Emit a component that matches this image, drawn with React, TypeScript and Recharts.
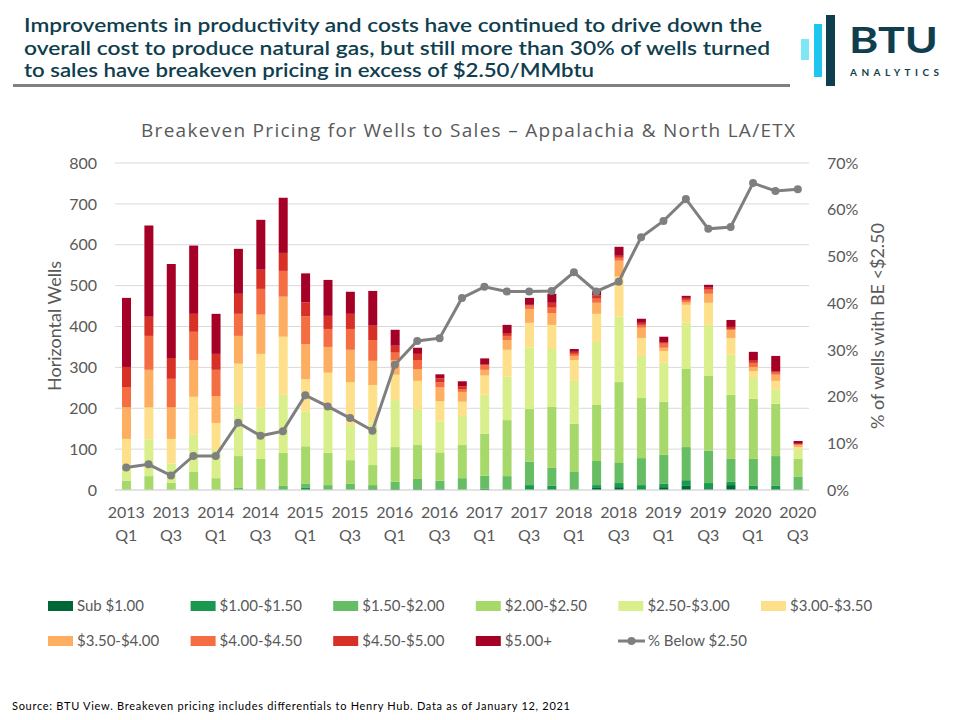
import React from 'react';
import { ComposedChart, Bar, Line, XAxis, YAxis, CartesianGrid } from 'recharts';

const quarters = [
  '2013 Q1', '2013 Q2', '2013 Q3', '2013 Q4',
  '2014 Q1', '2014 Q2', '2014 Q3', '2014 Q4',
  '2015 Q1', '2015 Q2', '2015 Q3', '2015 Q4',
  '2016 Q1', '2016 Q2', '2016 Q3', '2016 Q4',
  '2017 Q1', '2017 Q2', '2017 Q3', '2017 Q4',
  '2018 Q1', '2018 Q2', '2018 Q3', '2018 Q4',
  '2019 Q1', '2019 Q2', '2019 Q3', '2019 Q4',
  '2020 Q1', '2020 Q2', '2020 Q3',
];

// wells per breakeven bucket, bottom of the stack first
const sub100 = [0, 0, 0, 0, 0, 0, 0, 0, 2, 0, 0, 2, 2, 2, 0, 0, 3, 0, 0, 2, 0, 5, 7, 0, 7, 10, 2, 12, 2, 2, 0];
const b100to150 = [0, 0, 0, 0, 0, 0, 0, 0, 3, 0, 0, 0, 0, 0, 4, 0, 0, 0, 12, 8, 0, 7, 10, 12, 8, 14, 15, 8, 8, 8, 2];
const b150to200 = [0, 0, 0, 0, 0, 5, 0, 10, 11, 12, 15, 10, 18, 25, 19, 29, 32, 34, 57, 44, 44, 59, 49, 66, 71, 81, 79, 56, 66, 73, 30];
const b200to250 = [23, 34, 18, 44, 29, 78, 76, 81, 91, 79, 58, 49, 85, 83, 69, 81, 103, 137, 129, 149, 118, 137, 198, 147, 130, 191, 183, 157, 147, 128, 44];
const b250to300 = [39, 90, 47, 91, 69, 125, 125, 142, 85, 105, 86, 102, 115, 88, 76, 71, 95, 106, 150, 142, 105, 154, 160, 103, 95, 113, 125, 98, 51, 34, 24];
const b300to350 = [63, 78, 60, 93, 66, 101, 132, 142, 79, 91, 105, 94, 62, 69, 49, 35, 47, 66, 61, 59, 51, 69, 98, 44, 29, 44, 54, 41, 17, 22, 5];
const b350to400 = [77, 92, 77, 90, 66, 68, 96, 98, 86, 63, 79, 59, 36, 29, 34, 24, 14, 24, 34, 29, 10, 27, 39, 25, 8, 7, 22, 19, 10, 15, 5];
const b400to450 = [50, 83, 70, 69, 64, 54, 63, 63, 68, 44, 51, 51, 18, 22, 12, 7, 11, 10, 8, 13, 5, 10, 7, 7, 10, 5, 10, 3, 10, 5, 2];
const b450to500 = [49, 47, 51, 44, 39, 49, 47, 44, 34, 32, 37, 35, 17, 15, 10, 7, 3, 7, 2, 12, 5, 8, 5, 5, 4, 5, 5, 5, 7, 4, 1];
const over500 = [169, 223, 230, 167, 98, 110, 122, 135, 71, 88, 54, 85, 39, 15, 10, 12, 14, 20, 17, 22, 7, 11, 22, 10, 13, 5, 7, 17, 20, 37, 7];

const pctBelow250 = [4.8, 5.5, 3.1, 7.3, 7.3, 14.4, 11.6, 12.6, 20.3, 17.9, 15.4, 12.7, 26.8, 31.9, 32.5, 41.1, 43.5, 42.5, 42.5, 42.6, 46.6, 42.5, 44.6, 54.1, 57.6, 62.3, 55.9, 56.3, 65.7, 64.0, 64.4];

const leftTicks = [0, 100, 200, 300, 400, 500, 600, 700, 800];
const rightTicks = [0, 10, 20, 30, 40, 50, 60, 70];

const titleLines = [
  'Improvements in productivity and costs have continued to drive down the',
  'overall cost to produce natural gas, but still more than 30% of wells turned',
  'to sales have breakeven pricing in excess of $2.50/MMbtu',
];
const titleWidths = [738, 746, 570];

const series = [
  { key: 'sub100', name: 'Sub $1.00', color: '#006837', values: sub100 },
  { key: 'b100', name: '$1.00-$1.50', color: '#1a9850', values: b100to150 },
  { key: 'b150', name: '$1.50-$2.00', color: '#66bd63', values: b150to200 },
  { key: 'b200', name: '$2.00-$2.50', color: '#a6d96a', values: b200to250 },
  { key: 'b250', name: '$2.50-$3.00', color: '#d9ef8b', values: b250to300 },
  { key: 'b300', name: '$3.00-$3.50', color: '#fee08b', values: b300to350 },
  { key: 'b350', name: '$3.50-$4.00', color: '#fdae61', values: b350to400 },
  { key: 'b400', name: '$4.00-$4.50', color: '#f46d43', values: b400to450 },
  { key: 'b450', name: '$4.50-$5.00', color: '#d73027', values: b450to500 },
  { key: 'b500', name: '$5.00+', color: '#a50026', values: over500 },
];

const data = quarters.map((q, i) => {
  const row: Record<string, any> = { quarter: q, pct: pctBelow250[i] };
  series.forEach((s) => { row[s.key] = s.values[i]; });
  return row;
});

const FONT = 'Lato, "Open Sans", sans-serif';
const WIDE = '"Open Sans", Lato, sans-serif';
const GREY = '#595959';
const TEAL = '#0f3e4e';

const QuarterTick = (props: any) => {
  const { x, y, payload } = props;
  const [yr, q] = String(payload.value).split(' ');
  return (
    <g>
      <text x={x} y={y + 28} textAnchor="middle" fill={GREY} fontSize={16} fontFamily={FONT}>{yr}</text>
      <text x={x} y={y + 51} textAnchor="middle" fill={GREY} fontSize={16} fontFamily={FONT}>{q}</text>
    </g>
  );
};

const legendRows = [series.slice(0, 6), series.slice(6)];

const App: React.FC = () => {
  return (
    <div style={{ position: 'absolute', left: 0, top: 0, width: 960, height: 720, background: '#fff', fontFamily: FONT }}>
      <ComposedChart
        width={960}
        height={720}
        data={data}
        margin={{ top: 163, right: 91, bottom: 180, left: 55 }}
        barSize={9}
      >
        <CartesianGrid yAxisId="left" vertical={false} stroke="#d9d9d9" />
        <XAxis
          dataKey="quarter"
          interval={1}
          height={50}
          tick={<QuarterTick />}
          tickLine={false}
          tickSize={0}
          tickMargin={0}
          axisLine={{ stroke: '#d9d9d9' }}
        />
        <YAxis
          yAxisId="left"
          width={60}
          domain={[0, 800]}
          ticks={leftTicks}
          tickLine={false}
          axisLine={false}
          tickSize={0}
          tickMargin={18}
          tick={{ fill: GREY, fontSize: 16, fontFamily: FONT }}
        />
        <YAxis
          yAxisId="right"
          orientation="right"
          width={60}
          domain={[0, 70]}
          ticks={rightTicks}
          tickFormatter={(v) => `${v}%`}
          tickLine={false}
          axisLine={false}
          tickSize={0}
          tickMargin={18}
          tick={{ fill: GREY, fontSize: 16, fontFamily: FONT, textAnchor: 'start' }}
        />
        {series.map((s) => (
          <Bar key={s.key} yAxisId="left" dataKey={s.key} name={s.name} stackId="wells" fill={s.color} isAnimationActive={false} />
        ))}
        <Line
          yAxisId="right"
          dataKey="pct"
          name="% Below $2.50"
          stroke="#7f7f7f"
          strokeWidth={3}
          dot={{ r: 4, fill: '#7f7f7f', stroke: '#7f7f7f', strokeWidth: 0 }}
          isAnimationActive={false}
        />
      </ComposedChart>

      <svg width={960} height={720} style={{ position: 'absolute', left: 0, top: 0, pointerEvents: 'none' }}>
        {/* header */}
        {titleLines.map((t, i) => (
          <text
            key={i}
            x={24}
            y={32 + i * 22.5}
            fill={TEAL}
            fontSize={18.5}
            fontWeight={600}
            fontFamily={FONT}
            textLength={titleWidths[i]}
            lengthAdjust="spacingAndGlyphs"
          >
            {t}
          </text>
        ))}
        <rect x={13} y={84} width={777} height={3} fill="#808080" />

        {/* logo */}
        <rect x={801} y={39} width={8} height={21} fill="#7fe6f5" />
        <rect x={814} y={24} width={8} height={53} fill="#1ec5ef" />
        <rect x={826} y={15} width={9} height={71} fill={TEAL} />
        <text x={849} y={53} fill={TEAL} fontSize={37} fontWeight={700} fontFamily={FONT} textLength={89} lengthAdjust="spacingAndGlyphs">BTU</text>
        <text x={850} y={76} fill={TEAL} fontSize={10} fontWeight={700} fontFamily={FONT} textLength={89}>ANALYTICS</text>

        <text x={141} y={137} fill={GREY} fontSize={19} fontFamily={WIDE} textLength={654}>
          Breakeven Pricing for Wells to Sales – Appalachia &amp; North LA/ETX
        </text>

        <text transform="translate(61,326) rotate(-90)" textAnchor="middle" fill={GREY} fontSize={18} fontFamily={FONT}>Horizontal Wells</text>
        <text transform="translate(884,326) rotate(-90)" textAnchor="middle" fill={GREY} fontSize={18} fontFamily={FONT}>% of wells with BE &lt;$2.50</text>

        {/* legend */}
        {legendRows.map((row, r) =>
          row.map((s, i) => {
            const lx = 48 + i * 142.6;
            const ly = 606 + r * 35;
            return (
              <g key={s.key}>
                <rect x={lx} y={ly - 5} width={25} height={10} fill={s.color} />
                <text x={lx + 29} y={ly + 5} fill={GREY} fontSize={15} fontFamily={FONT}>{s.name}</text>
              </g>
            );
          })
        )}
        <g>
          <line x1={618} y1={641} x2={645} y2={641} stroke="#7f7f7f" strokeWidth={3} />
          <circle cx={631.5} cy={641} r={4} fill="#7f7f7f" />
          <text x={648} y={646} fill={GREY} fontSize={15} fontFamily={FONT}>% Below $2.50</text>
        </g>

        <text x={12} y={710} fill="#000" fontSize={11} fontFamily={FONT} textLength={558}>
          Source: BTU View.  Breakeven pricing includes differentials to Henry Hub. Data as of January 12, 2021
        </text>
      </svg>
    </div>
  );
};

export default App;
